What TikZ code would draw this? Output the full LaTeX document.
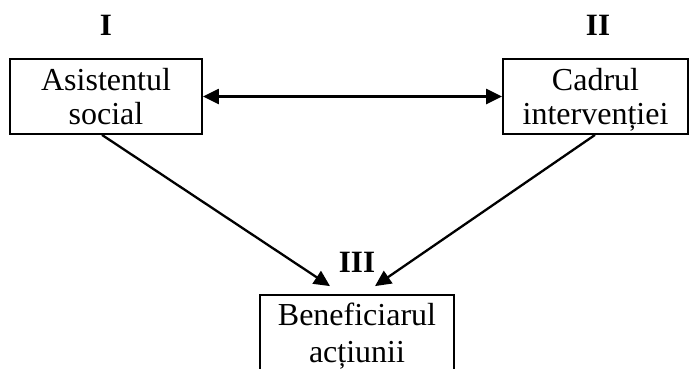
\documentclass[tikz,border=0pt]{standalone}
\usepackage{fontspec}
\setmainfont{Liberation Serif}
\usetikzlibrary{arrows.meta,calc}

\tikzset{
  box/.style={draw, line width=1.8pt, inner sep=0pt},
  boxtext/.style={align=center, inner sep=0pt, font=\fontsize{32}{34}\selectfont},
  roman/.style={inner sep=0pt, font=\fontsize{31}{31}\selectfont\bfseries},
  tip/.style={Triangle[length=16pt,width=15pt]},
  link/.style={line width=2.3pt, -{Triangle[length=16pt,width=15pt]}},
  twoway/.style={line width=2.3pt, {Triangle[length=16pt,width=15pt]}-{Triangle[length=16pt,width=15pt]}}
}

\begin{document}
\begin{tikzpicture}[x=1pt,y=1pt]
  \useasboundingbox (0,0) rectangle (690,368);

  % the three boxes
  \node[box, minimum width=192pt, minimum height=75pt] (b1) at (106,271.5) {};
  \node[box, minimum width=185pt, minimum height=75pt] (b2) at (595.5,271.5) {};
  \node[box, minimum width=194pt, minimum height=93pt] (b3) at (357,26.5) {};

  % box captions
  \node[boxtext] (t1) at ($(b1.center)+(0,-0.5)$) {Asistentul\\social};
  \node[boxtext] (t2) at ($(b2.center)+(0,-3.5)$) {Cadrul\\intervenției};
  \node[boxtext, font=\fontsize{32}{37}\selectfont] (t3) at ($(b3.north)+(0,-42)$) {Beneficiarul\\acțiunii};

  % roman numerals
  \node[roman] (n1) at (106,343) {I};
  \node[roman] (n2) at (598,343) {II};
  \node[roman] (n3) at (357,106) {III};

  % connectors
  \coordinate (s1) at ($(b1.south)+(-4,0)$);
  \coordinate (s2) at ($(b2.south)+(-0.5,0)$);
  \coordinate (e1) at ($(b3.north)+(-27,8)$);
  \coordinate (e2) at ($(b3.north)+(18,8)$);
  \draw[twoway] (b1.east) -- (b2.west);
  \draw[link] (s1) -- (e1);
  \draw[link] (s2) -- (e2);
\end{tikzpicture}
\end{document}
